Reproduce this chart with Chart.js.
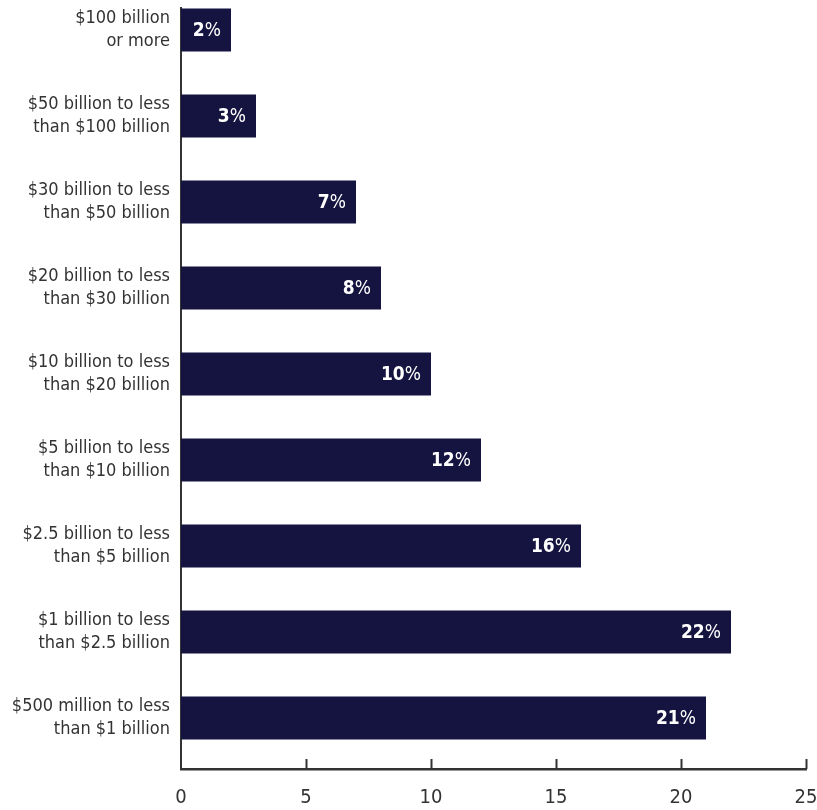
<!DOCTYPE html>
<html>
<head>
<meta charset="utf-8">
<script src="https://cdn.jsdelivr.net/npm/chart.js@4.4.1/dist/chart.umd.min.js"></script>
<style>
  html, body { margin: 0; padding: 0; background: #fff; }
  #wrap { width: 817px; height: 810px; }
</style>
</head>
<body>
<div id="wrap"><canvas id="bars"></canvas></div>
<script>
const categories = [
  ["$100 billion", "or more"],
  ["$50 billion to less", "than $100 billion"],
  ["$30 billion to less", "than $50 billion"],
  ["$20 billion to less", "than $30 billion"],
  ["$10 billion to less", "than $20 billion"],
  ["$5 billion to less", "than $10 billion"],
  ["$2.5 billion to less", "than $5 billion"],
  ["$1 billion to less", "than $2.5 billion"],
  ["$500 million to less", "than $1 billion"],
];
const shares = [2, 3, 7, 8, 10, 12, 16, 22, 21];
const xTicks = [0, 5, 10, 15, 20, 25];

const FONT = "'Liberation Sans Narrow', 'DejaVu Sans Condensed', Roboto, sans-serif";
const INK = "#333333";
const NAVY = "#15133f";

// value labels inside the bar end: bold number, lighter "%"
const barLabels = {
  id: "barLabels",
  afterDatasetsDraw(chart) {
    const { ctx } = chart;
    const meta = chart.getDatasetMeta(0);
    ctx.save();
    ctx.fillStyle = "#ffffff";
    ctx.textBaseline = "middle";
    ctx.textAlign = "right";
    meta.data.forEach((bar, i) => {
      const right = bar.x - 10;
      ctx.font = "19px " + FONT;
      ctx.fillText("%", right, bar.y + 1);
      const pw = ctx.measureText("%").width;
      ctx.font = "bold 19px " + FONT;
      ctx.fillText(String(shares[i]), right - pw, bar.y + 1);
    });
    ctx.restore();
  }
};

// short tick marks pointing up from the x axis
const innerTicks = {
  id: "innerTicks",
  afterDraw(chart) {
    const { ctx, scales: { x }, chartArea } = chart;
    ctx.save();
    ctx.strokeStyle = INK;
    ctx.lineWidth = 2;
    xTicks.forEach(t => {
      if (t === 0) return;
      const px = Math.round(x.getPixelForValue(t)) + 0.5;
      ctx.beginPath();
      ctx.moveTo(px, chartArea.bottom);
      ctx.lineTo(px, chartArea.bottom - 10);
      ctx.stroke();
    });
    ctx.restore();
  }
};

new Chart(document.getElementById("bars"), {
  type: "bar",
  data: {
    datasets: [{
      data: shares.map((v, i) => ({ x: v, y: i })),
      backgroundColor: NAVY,
      borderWidth: 0,
      barPercentage: 0.5,
      categoryPercentage: 1,
    }],
  },
  options: {
    indexAxis: "y",
    responsive: true,
    maintainAspectRatio: false,
    animation: false,
    layout: { padding: { top: 8, right: 11, left: 0, bottom: 0 } },
    plugins: {
      legend: { display: false },
      tooltip: { enabled: false },
    },
    scales: {
      x: {
        type: "linear",
        min: 0,
        max: 25,
        offset: false,
        afterBuildTicks: s => { s.ticks = xTicks.map(v => ({ value: v })); },
        afterFit: s => { s.height = 41; s.paddingLeft = 0; s.paddingRight = 0; },
        grid: { display: false, drawTicks: false },
        border: { display: true, color: INK, width: 2.5 },
        ticks: {
          color: INK,
          padding: 17,
          maxRotation: 0,
          font: { family: FONT, size: 20 },
        },
      },
      y: {
        type: "linear",
        reverse: true,
        offset: false,
        min: -0.256,
        max: 8.593,
        afterBuildTicks: s => { s.ticks = categories.map((_, i) => ({ value: i })); },
        afterFit: s => { s.width = 181; s.paddingTop = 0; s.paddingBottom = 0; },
        grid: { display: false, drawTicks: false, offset: false },
        border: { display: true, color: INK, width: 2 },
        ticks: {
          color: INK,
          padding: 11,
          callback: v => categories[v],
          font: { family: FONT, size: 18, lineHeight: 1.27 },
        },
      },
    },
  },
  plugins: [barLabels, innerTicks],
});
</script>
</body>
</html>
